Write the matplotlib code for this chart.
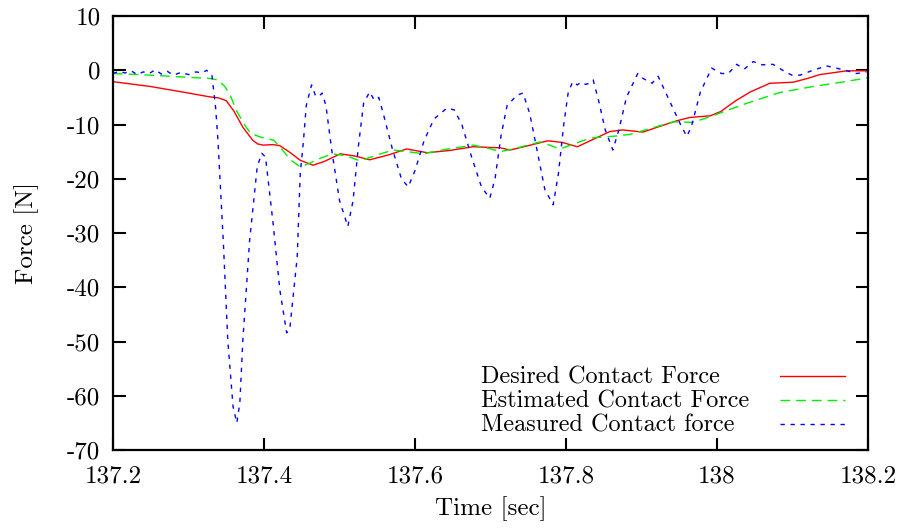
import matplotlib
matplotlib.use("Agg")
import matplotlib.pyplot as plt
from matplotlib.ticker import FixedLocator, FixedFormatter

# Desired contact force (red, solid)
t_desired = [137.20, 137.25, 137.30, 137.328, 137.340, 137.350, 137.36, 137.372, 137.385, 137.392,
             137.399, 137.412, 137.421, 137.435, 137.448, 137.465, 137.48, 137.501, 137.52, 137.540,
             137.565, 137.589, 137.616, 137.645, 137.677, 137.713, 137.726, 137.750, 137.776, 137.795,
             137.815, 137.835, 137.858, 137.875, 137.902, 137.925, 137.947, 137.964, 137.991, 138.005,
             138.025, 138.044, 138.070, 138.101, 138.120, 138.136, 138.172, 138.20]
f_desired = [-2.1, -3.0, -4.2, -4.9, -5.1, -5.6, -7.5, -10.5, -12.9, -13.6,
             -13.8, -13.7, -13.9, -15.2, -16.6, -17.5, -16.8, -15.4, -15.8, -16.5,
             -15.6, -14.5, -15.2, -14.8, -14.1, -14.3, -14.7, -13.9, -13.0, -13.3,
             -14.1, -12.8, -11.3, -11.0, -11.4, -10.3, -9.3, -8.7, -8.4, -7.6,
             -5.6, -4.0, -2.4, -2.2, -1.5, -0.8, -0.1, -0.1]

# Estimated contact force (green, long dashes)
t_estimated = [137.20, 137.25, 137.30, 137.328, 137.340, 137.348, 137.355, 137.363, 137.374, 137.382,
               137.395, 137.413, 137.425, 137.435, 137.448, 137.461, 137.475, 137.491, 137.510, 137.527,
               137.550, 137.571, 137.590, 137.611, 137.640, 137.677, 137.695, 137.713, 137.730, 137.766,
               137.792, 137.812, 137.832, 137.868, 137.885, 137.915, 137.942, 137.968, 137.99, 138.039,
               138.083, 138.127, 138.160, 138.20]
f_estimated = [-0.6, -0.9, -1.3, -1.5, -1.8, -3.0, -4.5, -7.3, -10.0, -11.6,
               -12.3, -12.9, -14.8, -16.5, -17.8, -17.1, -16.2, -15.4, -15.8, -16.7,
               -15.6, -14.7, -15.0, -15.4, -14.6, -13.8, -14.3, -15.0, -14.5, -13.2,
               -14.5, -13.5, -12.5, -12.1, -11.8, -10.6, -9.5, -9.6, -8.6, -6.1,
               -4.1, -3.0, -2.3, -1.4]

# Measured contact force (blue, short dashes)
t_measured = [137.200, 137.208, 137.216, 137.224, 137.232, 137.240, 137.248, 137.256, 137.264, 137.272,
              137.280, 137.290, 137.300, 137.310, 137.318, 137.324, 137.331, 137.336, 137.339, 137.346,
              137.352, 137.359, 137.364, 137.368, 137.372, 137.381, 137.391, 137.397, 137.402, 137.412,
              137.421, 137.430, 137.434, 137.444, 137.448, 137.452, 137.456, 137.463, 137.468, 137.472,
              137.477, 137.482, 137.490, 137.500, 137.511, 137.518, 137.525, 137.532, 137.540, 137.546,
              137.552, 137.558, 137.570, 137.582, 137.591, 137.600, 137.612, 137.625, 137.642, 137.652,
              137.662, 137.675, 137.688, 137.699, 137.706, 137.714, 137.722, 137.735, 137.743, 137.752,
              137.762, 137.772, 137.783, 137.790, 137.797, 137.803, 137.809, 137.815, 137.820, 137.826,
              137.831, 137.836, 137.843, 137.852, 137.862, 137.870, 137.880, 137.895, 137.902, 137.907,
              137.914, 137.922, 137.930, 137.945, 137.952, 137.960, 137.966, 137.978, 137.993, 138.006,
              138.015, 138.026, 138.036, 138.048, 138.060, 138.074, 138.087, 138.099, 138.110, 138.127,
              138.145, 138.158, 138.172, 138.185, 138.198]
f_measured = [-0.6, -0.2, -0.5, -0.1, -0.8, -0.3, -0.6, 0.1, -0.7, -0.2,
              -0.9, -0.4, -0.8, -0.3, -0.5, 0.0, -0.9, -7.0, -12.9, -31.3,
              -49.7, -62.0, -65.0, -61.3, -49.7, -31.3, -17.8, -15.3, -16.0, -28.2,
              -40.5, -48.4, -47.9, -34.4, -19.0, -13.4, -6.5, -2.7, -4.6, -4.9,
              -4.2, -6.5, -15.0, -24.0, -28.8, -24.0, -14.0, -6.0, -4.0, -5.5,
              -5.0, -8.0, -14.5, -20.0, -21.5, -18.5, -13.0, -9.0, -7.0, -7.3,
              -10.0, -16.0, -21.5, -23.6, -20.0, -12.0, -6.5, -4.6, -4.2, -8.0,
              -15.0, -22.0, -24.8, -19.0, -10.0, -4.0, -2.1, -2.7, -2.2, -2.6,
              -2.4, -1.8, -5.5, -11.0, -14.7, -11.0, -5.0, -0.6, -1.5, -1.9,
              -2.4, -1.1, -3.5, -8.0, -10.1, -12.2, -10.4, -4.0, 0.4, -0.6,
              -0.6, 1.1, 0.2, 1.6, 1.0, 1.1, 0.0, -0.9, -0.9, 0.0,
              0.8, 0.4, -0.1, -0.6, -0.3]

x_ticks = [137.2, 137.4, 137.6, 137.8, 138.0, 138.2]
x_labels = ["137.2", "137.4", "137.6", "137.8", "138", "138.2"]
y_ticks = [10, 0, -10, -20, -30, -40, -50, -60, -70]
y_labels = ["10", "0", "-10", "-20", "-30", "-40", "-50", "-60", "-70"]

plt.rcParams["font.family"] = ["cmr10", "DejaVu Serif"]
plt.rcParams["font.size"] = 18

fig = plt.figure(figsize=(9.04, 5.32), dpi=100)
ax = fig.add_axes([0.125, 0.1541, 0.8352, 0.8158])

styles = [
    dict(color="#ff0000", lw=1.0),
    dict(color="#00ee00", lw=1.0, dashes=(7, 4.3)),
    dict(color="#0000ff", lw=1.0, dashes=(3.1, 4.1)),
]
series = [
    (t_desired, f_desired, "Desired Contact Force"),
    (t_estimated, f_estimated, "Estimated Contact Force"),
    (t_measured, f_measured, "Measured Contact force"),
]

# gnuplot-like key: left-aligned text, sample line on the right
key_rows = [0.1705, 0.1152, 0.0599]
for (t, f, name), st, ky in zip(series, styles, key_rows):
    ax.plot(t, f, **st)
    ax.plot([0.8834, 0.9695], [ky, ky], transform=ax.transAxes, **st)
    ax.text(0.4874, ky - 0.003, name, transform=ax.transAxes, ha="left", va="center", fontsize=17.5)

ax.set_xlim(137.2, 138.2)
ax.set_ylim(-70, 10)
ax.xaxis.set_major_locator(FixedLocator(x_ticks))
ax.xaxis.set_major_formatter(FixedFormatter(x_labels))
ax.yaxis.set_major_locator(FixedLocator(y_ticks))
ax.yaxis.set_major_formatter(FixedFormatter(y_labels))
ax.tick_params(direction="in", length=9, width=1.5, top=True, right=True)
ax.tick_params(axis="x", pad=11)
ax.tick_params(axis="y", pad=9)
for s in ax.spines.values():
    s.set_linewidth(1.6)

ax.set_xlabel("Time [sec]", labelpad=6)
ax.set_ylabel("Force [N]", labelpad=20)

fig.savefig("out.png", dpi=100)
